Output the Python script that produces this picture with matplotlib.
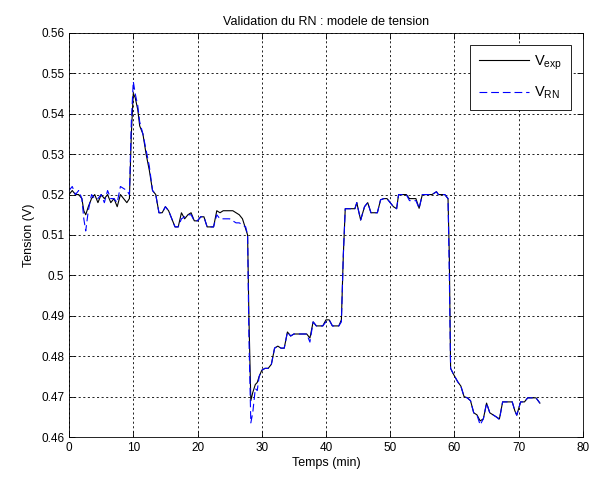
#!/usr/bin/env python3
"""Validation du RN : tension mesuree vs tension predite par le reseau."""
import matplotlib
matplotlib.use("Agg")
import matplotlib.pyplot as plt
from matplotlib.ticker import FuncFormatter

# temps (min)
temps = [
    0.0, 0.5, 1.0, 1.5, 2.0, 2.3, 2.6, 3.0, 3.5, 4.0, 4.5, 5.0, 5.5, 6.0, 6.5,
    7.0, 7.5, 8.0, 8.5, 9.0, 9.4, 9.7, 10.0, 10.3, 10.7, 11.0, 11.5, 12.0,
    12.5, 13.0, 13.5, 14.0, 14.5, 15.0, 15.5, 16.0, 16.5, 17.0, 17.5, 18.0,
    18.5, 19.0, 19.5, 20.0, 20.5, 21.0, 21.5, 22.0, 22.5, 23.0, 23.5, 24.0,
    24.5, 25.0, 25.5, 26.0, 26.5, 27.0, 27.5, 27.8, 28.0, 28.3, 28.6, 29.0,
    29.3, 29.6, 30.0, 30.5, 31.0, 31.5, 32.0, 32.5, 33.0, 33.5, 34.0, 34.5,
    35.0, 35.5, 36.0, 36.5, 37.0, 37.5, 38.0, 38.5, 39.0, 39.5, 40.0, 40.5,
    41.0, 41.5, 42.0, 42.4, 42.7, 43.0, 43.5, 44.0, 44.5, 44.8, 45.0, 45.4,
    46.0, 46.5, 47.0, 47.5, 48.0, 48.5, 49.0, 49.5, 50.0, 50.5, 51.0, 51.3,
    52.0, 52.5, 53.0, 53.5, 54.0, 54.5, 55.0, 55.5, 56.0, 56.5, 57.0, 57.2,
    57.5, 58.0, 58.5, 59.0, 59.2, 59.4, 59.8, 60.5, 61.0, 61.5, 62.0, 62.5,
    63.0, 63.5, 64.0, 64.5, 65.0, 65.5, 66.0, 66.5, 67.0, 67.5, 68.0, 68.5,
    69.0, 69.4, 69.7, 70.3, 70.9, 71.4, 72.0, 72.7, 73.3,
]

# tension experimentale (V)
v_exp = [
    0.520, 0.521, 0.520, 0.520, 0.519, 0.516, 0.515, 0.517, 0.519, 0.520,
    0.518, 0.520, 0.519, 0.520, 0.518, 0.519, 0.517, 0.520, 0.519, 0.518,
    0.519, 0.535, 0.545, 0.544, 0.541, 0.537, 0.535, 0.530, 0.526, 0.521,
    0.520, 0.5155, 0.5155, 0.517, 0.516, 0.514, 0.512, 0.512, 0.5155, 0.514,
    0.515, 0.5155, 0.5135, 0.5135, 0.5145, 0.5145, 0.512, 0.512, 0.512, 0.516,
    0.5155, 0.516, 0.516, 0.516, 0.516, 0.5155, 0.515, 0.514, 0.5115, 0.510,
    0.490, 0.469, 0.471, 0.473, 0.4735, 0.475, 0.4765, 0.477, 0.477, 0.478,
    0.482, 0.4825, 0.482, 0.482, 0.486, 0.485, 0.4855, 0.4855, 0.4855, 0.4855,
    0.4855, 0.4845, 0.4885, 0.4875, 0.4875, 0.4875, 0.489, 0.489, 0.4875,
    0.4875, 0.4875, 0.489, 0.505, 0.5165, 0.5165, 0.5165, 0.5165, 0.518,
    0.5165, 0.5137, 0.517, 0.518, 0.5155, 0.5155, 0.5155, 0.5187, 0.519,
    0.519, 0.518, 0.517, 0.5165, 0.520, 0.520, 0.520, 0.519, 0.519, 0.519,
    0.5166, 0.520, 0.520, 0.520, 0.520, 0.5205, 0.5207, 0.520, 0.520, 0.520,
    0.519, 0.505, 0.477, 0.4757, 0.4737, 0.4726, 0.470, 0.4697, 0.469, 0.466,
    0.4655, 0.464, 0.4645, 0.4684, 0.466, 0.4655, 0.465, 0.4645, 0.4687,
    0.4687, 0.4687, 0.4687, 0.4665, 0.4654, 0.4687, 0.4687, 0.4697, 0.4697,
    0.4697, 0.4684,
]

# tension predite par le reseau de neurones (V)
v_rn = [
    0.521, 0.522, 0.520, 0.521, 0.519, 0.514, 0.511, 0.516, 0.520, 0.519,
    0.519, 0.520, 0.518, 0.521, 0.519, 0.519, 0.518, 0.522, 0.5215, 0.521,
    0.520, 0.538, 0.548, 0.545, 0.542, 0.538, 0.535, 0.531, 0.527, 0.521,
    0.520, 0.5155, 0.5155, 0.517, 0.516, 0.514, 0.512, 0.512, 0.514, 0.5145,
    0.515, 0.515, 0.5135, 0.5135, 0.5145, 0.5145, 0.512, 0.512, 0.512, 0.515,
    0.514, 0.514, 0.514, 0.514, 0.5135, 0.513, 0.513, 0.5125, 0.512, 0.510,
    0.485, 0.4635, 0.466, 0.472, 0.4715, 0.475, 0.4765, 0.477, 0.477, 0.478,
    0.482, 0.4825, 0.482, 0.482, 0.486, 0.485, 0.4855, 0.4855, 0.4855, 0.4855,
    0.4855, 0.4835, 0.4885, 0.4875, 0.4875, 0.4875, 0.4885, 0.489, 0.4875,
    0.4875, 0.4875, 0.4885, 0.505, 0.5165, 0.5165, 0.5165, 0.5165, 0.518,
    0.5165, 0.5137, 0.517, 0.518, 0.5155, 0.5155, 0.5155, 0.5187, 0.519,
    0.519, 0.518, 0.517, 0.5165, 0.520, 0.520, 0.520, 0.5185, 0.5185, 0.5185,
    0.5166, 0.520, 0.520, 0.520, 0.520, 0.5205, 0.5207, 0.520, 0.520, 0.520,
    0.519, 0.500, 0.477, 0.4757, 0.4737, 0.4726, 0.470, 0.4697, 0.469, 0.466,
    0.4655, 0.463, 0.4645, 0.4684, 0.466, 0.4655, 0.465, 0.4643, 0.4687,
    0.4687, 0.4687, 0.4687, 0.4665, 0.4654, 0.4687, 0.4687, 0.4697, 0.4697,
    0.4697, 0.4684,
]

x_ticks = [0, 10, 20, 30, 40, 50, 60, 70, 80]
y_ticks = [0.46, 0.47, 0.48, 0.49, 0.50, 0.51, 0.52, 0.53, 0.54, 0.55, 0.56]

plt.rcParams["font.family"] = ["Liberation Sans", "DejaVu Sans"]
plt.rcParams["font.size"] = 8.5
plt.rcParams["mathtext.fontset"] = "custom"
plt.rcParams["mathtext.rm"] = "Liberation Sans"
plt.rcParams["mathtext.it"] = "Liberation Sans"

fig = plt.figure(figsize=(5.9, 4.84), dpi=100)
ax = fig.add_axes([0.117, 0.097, 0.871, 0.835])

ax.plot(temps, v_exp, color="black", lw=0.8, label=r"V$_{\mathrm{exp}}$")
ax.plot(temps, v_rn, color="blue", lw=0.8, dashes=(7, 3.5), label=r"V$_{\mathrm{RN}}$")

ax.set_xlim(0, 80)
ax.set_ylim(0.46, 0.56)
ax.set_xticks(x_ticks)
ax.set_yticks(y_ticks)
ax.yaxis.set_major_formatter(FuncFormatter(lambda v, _: "%g" % round(v, 2)))
ax.tick_params(direction="in", top=True, right=True, length=4, width=0.6)
ax.grid(True, color="black", lw=0.6, linestyle=(0, (2.5, 3)))
for sp in ax.spines.values():
    sp.set_linewidth(0.6)

ax.set_title("Validation du RN : modele de tension", fontsize=9, pad=6)
ax.set_xlabel("Temps (min)", fontsize=9, labelpad=2)
ax.set_ylabel("Tension (V)", fontsize=9, labelpad=4)

leg = ax.legend(loc="upper right", handlelength=3.4, handletextpad=0.4,
                fancybox=False, framealpha=1, edgecolor="black",
                borderpad=0.6, labelspacing=0.9, fontsize=10.5,
                borderaxespad=0.8)
leg.get_frame().set_linewidth(0.6)

fig.savefig("out.png", dpi=100)
